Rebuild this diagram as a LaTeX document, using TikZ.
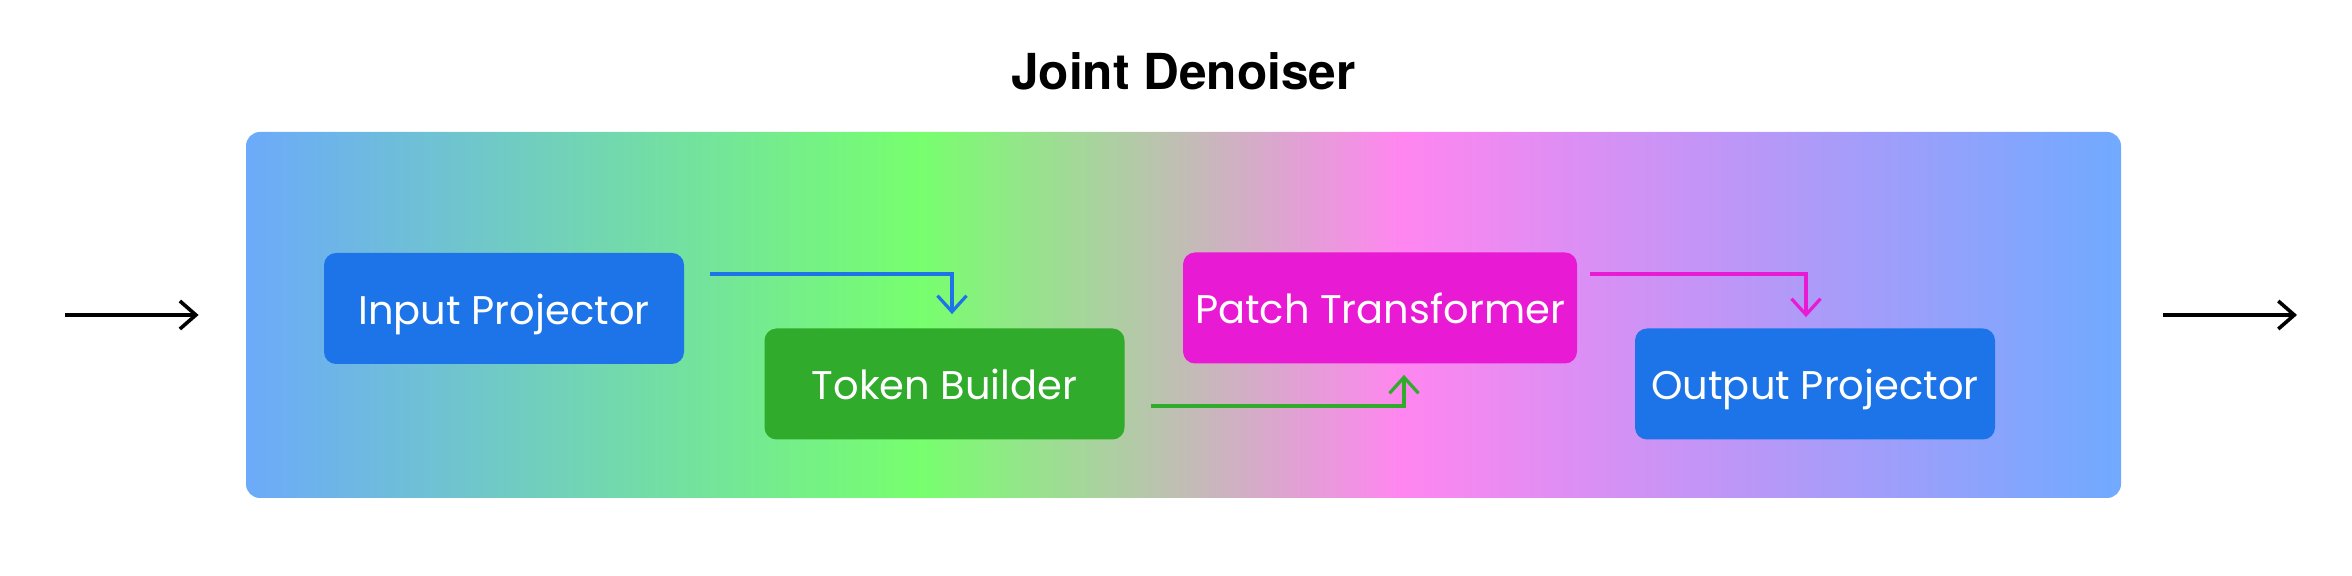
\documentclass[tikz,border=0pt]{standalone}
\usepackage{fontspec}
\setmainfont{Poppins}
\newfontfamily\titlefont{TeX Gyre Heros}
\usepackage{xcolor}
\usepackage{tikz}
\usetikzlibrary{arrows.meta}
\usetikzlibrary{positioning}
\definecolor{G0}{HTML}{6CAAFA}
\definecolor{G1}{HTML}{77FF6E}
\definecolor{G2}{HTML}{FF86F0}
\definecolor{G3}{HTML}{70AAFF}
\definecolor{CB}{HTML}{1C74E8}
\definecolor{CG}{HTML}{30AB2C}
\definecolor{CM}{HTML}{E91AD3}
\pgfdeclarehorizontalshading{jdgrad}{100bp}{color(0bp)=(G0); color(25bp)=(G0); color(43bp)=(G1); color(55.8bp)=(G2); color(75bp)=(G3); color(100bp)=(G3)}
\tikzset{
  block/.style={rounded corners=6pt, minimum width=180pt, minimum height=55.5pt, text=white, font=\fontsize{20}{24}\selectfont, inner sep=0pt, text height=16pt, text depth=0pt},
  flow/.style={line width=1.6pt, -{Straight Barb[length=8pt,width=14.5pt,line width=1.6pt]}},
  io/.style={line width=1.8pt, -{Straight Barb[length=8pt,width=14pt,line width=1.8pt]}}
}

\begin{document}
\begin{tikzpicture}[x=0.5pt,y=-0.5pt]
\useasboundingbox (0,0) rectangle (2352,576);
\node[shading=jdgrad, rounded corners=7pt, minimum width=937.5pt, minimum height=183pt, inner sep=0pt] (jd) at (1183.5,315) {};
\node[anchor=base, font=\titlefont\bfseries\fontsize{24.8}{30}\selectfont] (title) at (1183.5,90) {Joint Denoiser};
\node[block, fill=CB] (inp) at (504,308.5) {Input Projector};
\node[block, fill=CG] (tok) at (944.5,384) {Token Builder};
\node[block, fill=CM, minimum width=197pt] (pat) at (1380,308) {Patch Transformer};
\node[block, fill=CB] (out) at (1815,384) {Output Projector};
\coordinate (src) at (65,315);
\coordinate (snk) at (2297,315);
\draw[io] (src) -- ([xshift=-23.5pt]jd.west);
\draw[io] ([xshift=21pt]jd.east) -- (snk);
\draw[flow, CB] ([xshift=13pt,yshift=17.25pt]inp.east) -| ([xshift=3.75pt,yshift=7pt]tok.north);
\draw[flow, CG] ([xshift=13pt,yshift=-11pt]tok.east) -| ([xshift=12pt,yshift=-5.5pt]pat.south);
\draw[flow, CM] ([xshift=6.5pt,yshift=17pt]pat.east) -| ([xshift=-4.5pt,yshift=5.5pt]out.north);
\end{tikzpicture}
\end{document}
